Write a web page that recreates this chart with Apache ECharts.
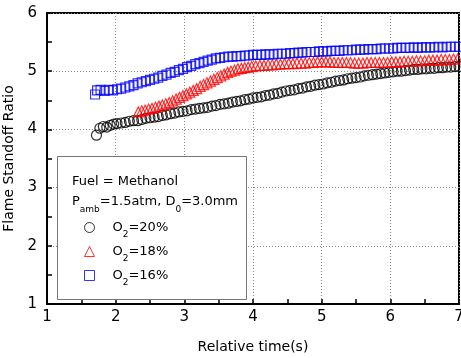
<!DOCTYPE html>
<html>
<head>
<meta charset="utf-8">
<script src="https://cdn.jsdelivr.net/npm/echarts@6/dist/echarts.min.js"></script>
<style>html,body{margin:0;padding:0;background:#fff}#c{width:461px;height:358px}</style>
</head>
<body>
<div id="c"></div>
<script>
var xTicks = [1, 2, 3, 4, 5, 6, 7];
var yTicks = [1, 2, 3, 4, 5, 6];
var seriesNames = ['O2=20%', 'O2=18%', 'O2=16%'];

var o2_20 = [
[1.72,3.90],[1.77,4.02],[1.82,4.05],[1.87,4.04],[1.92,4.07],[1.97,4.09],[2.02,4.10],[2.08,4.11],
[2.14,4.12],[2.20,4.14],[2.26,4.15],[2.32,4.15],[2.38,4.17],[2.44,4.19],[2.50,4.20],[2.56,4.21],
[2.62,4.22],[2.68,4.24],[2.74,4.25],[2.80,4.27],[2.86,4.28],[2.92,4.30],[2.98,4.31],[3.04,4.32],
[3.10,4.34],[3.16,4.35],[3.22,4.36],[3.28,4.37],[3.34,4.38],[3.40,4.40],[3.46,4.41],[3.52,4.43],
[3.58,4.44],[3.64,4.45],[3.70,4.47],[3.76,4.48],[3.82,4.49],[3.88,4.51],[3.94,4.52],[4.00,4.54],
[4.06,4.55],[4.12,4.56],[4.18,4.58],[4.24,4.59],[4.30,4.61],[4.36,4.62],[4.42,4.64],[4.48,4.66],
[4.54,4.67],[4.60,4.68],[4.66,4.70],[4.72,4.71],[4.78,4.73],[4.84,4.74],[4.90,4.76],[4.96,4.77],
[5.02,4.78],[5.08,4.80],[5.14,4.81],[5.20,4.83],[5.26,4.84],[5.32,4.85],[5.38,4.87],[5.44,4.88],
[5.50,4.89],[5.56,4.90],[5.62,4.92],[5.68,4.93],[5.74,4.94],[5.80,4.95],[5.86,4.96],[5.92,4.97],
[5.98,4.98],[6.04,4.99],[6.10,5.00],[6.16,5.00],[6.22,5.01],[6.28,5.02],[6.34,5.03],[6.40,5.03],
[6.46,5.04],[6.52,5.04],[6.58,5.05],[6.64,5.05],[6.70,5.06],[6.76,5.06],[6.82,5.07],[6.88,5.07],
[6.94,5.08],[7.00,5.08]
];

var o2_18 = [
[2.33,4.30],[2.38,4.32],[2.43,4.33],[2.48,4.35],[2.53,4.36],[2.58,4.38],[2.63,4.40],[2.68,4.42],
[2.73,4.44],[2.78,4.46],[2.83,4.49],[2.88,4.52],[2.93,4.55],[2.98,4.58],[3.03,4.61],[3.08,4.64],
[3.13,4.67],[3.18,4.70],[3.23,4.74],[3.28,4.77],[3.33,4.80],[3.38,4.83],[3.43,4.86],[3.48,4.89],
[3.53,4.92],[3.58,4.95],[3.63,4.98],[3.68,5.00],[3.73,5.02],[3.78,5.04],[3.83,5.05],[3.88,5.06],
[3.93,5.07],[3.98,5.08],[4.04,5.09],[4.10,5.10],[4.16,5.10],[4.22,5.11],[4.28,5.11],[4.34,5.12],
[4.40,5.12],[4.46,5.13],[4.52,5.13],[4.58,5.13],[4.64,5.14],[4.70,5.14],[4.76,5.14],[4.82,5.15],
[4.88,5.15],[4.94,5.16],[5.00,5.16],[5.06,5.16],[5.12,5.16],[5.18,5.15],[5.24,5.15],[5.30,5.15],
[5.36,5.15],[5.42,5.15],[5.48,5.14],[5.54,5.14],[5.60,5.14],[5.66,5.15],[5.72,5.15],[5.78,5.15],
[5.84,5.15],[5.90,5.15],[5.96,5.15],[6.02,5.16],[6.08,5.16],[6.14,5.16],[6.20,5.17],[6.26,5.17],
[6.32,5.17],[6.38,5.18],[6.44,5.18],[6.50,5.18],[6.56,5.19],[6.62,5.19],[6.68,5.19],[6.74,5.20],
[6.80,5.20],[6.86,5.20],[6.92,5.21],[6.98,5.21]
];

var o2_16 = [
[1.70,4.60],[1.73,4.67],[1.78,4.68],[1.84,4.66],[1.90,4.68],[1.96,4.67],[2.02,4.69],[2.08,4.70],
[2.14,4.72],[2.20,4.74],[2.26,4.76],[2.32,4.79],[2.38,4.81],[2.44,4.83],[2.50,4.85],[2.56,4.87],
[2.62,4.89],[2.68,4.92],[2.74,4.94],[2.80,4.97],[2.86,4.99],[2.92,5.02],[2.98,5.04],[3.04,5.07],
[3.10,5.09],[3.16,5.12],[3.22,5.14],[3.28,5.16],[3.34,5.18],[3.40,5.20],[3.46,5.22],[3.52,5.23],
[3.58,5.24],[3.64,5.25],[3.70,5.25],[3.76,5.26],[3.82,5.26],[3.88,5.27],[3.94,5.27],[4.00,5.28],
[4.06,5.28],[4.12,5.28],[4.18,5.29],[4.24,5.29],[4.30,5.29],[4.36,5.30],[4.42,5.30],[4.48,5.30],
[4.54,5.31],[4.60,5.31],[4.66,5.32],[4.72,5.32],[4.78,5.33],[4.84,5.33],[4.90,5.33],[4.96,5.34],
[5.02,5.34],[5.08,5.34],[5.14,5.35],[5.20,5.35],[5.26,5.35],[5.32,5.36],[5.38,5.36],[5.44,5.36],
[5.50,5.37],[5.56,5.37],[5.62,5.37],[5.68,5.38],[5.74,5.38],[5.80,5.38],[5.86,5.39],[5.92,5.39],
[5.98,5.39],[6.04,5.39],[6.10,5.40],[6.16,5.40],[6.22,5.40],[6.28,5.40],[6.34,5.41],[6.40,5.40],
[6.46,5.41],[6.52,5.41],[6.58,5.41],[6.64,5.41],[6.70,5.42],[6.76,5.41],[6.82,5.42],[6.88,5.42],
[6.94,5.42],[7.00,5.42]
];

var FF = 'DejaVu Sans';
var chart = echarts.init(document.getElementById('c'), null, {renderer: 'canvas'});

function axisCommon() {
  return {
    axisLine: {show: true, lineStyle: {color: '#000', width: 2}},
    axisTick: {show: true, inside: true, length: 5, lineStyle: {color: '#000', width: 1.5}},
    minorTick: {show: true, splitNumber: 2, length: 5, lineStyle: {color: '#000', width: 1.5}},
    splitLine: {show: true, lineStyle: {color: '#888', width: 1, type: [1, 2]}},
    nameTextStyle: {fontFamily: FF, fontSize: 14, color: '#000'}
  };
}

var xa = axisCommon();
Object.assign(xa, {
  type: 'value', min: xTicks[0], max: xTicks[xTicks.length - 1], interval: 1,
  name: 'Relative time(s)', nameLocation: 'middle', nameGap: 36,
  axisLabel: {fontFamily: FF, fontSize: 15, color: '#000', margin: 6}
});
var ya = axisCommon();
Object.assign(ya, {
  type: 'value', min: yTicks[0], max: yTicks[yTicks.length - 1], interval: 1,
  name: 'Flame Standoff Ratio', nameLocation: 'middle', nameGap: 20,
  axisLabel: {fontFamily: FF, fontSize: 15, color: '#000', margin: 10}
});

function sc(name, data, symbol, color, size) {
  return {
    name: name, type: 'scatter', data: data, symbol: symbol, symbolSize: size,
    itemStyle: {color: 'rgba(0,0,0,0)', borderColor: color, borderWidth: 1.2},
    emphasis: {disabled: true}, animation: false
  };
}

var rich = {
  n: {fontFamily: FF, fontSize: 13, color: '#000', lineHeight: 24},
  s: {fontFamily: FF, fontSize: 9, color: '#000', lineHeight: 9, verticalAlign: 'bottom'}
};

chart.setOption({
  animation: false,
  backgroundColor: '#fff',
  grid: {left: 47, right: 2, top: 13, bottom: 54, containLabel: false, outerBoundsMode: 'none',
         show: true, borderColor: '#000', borderWidth: 2, backgroundColor: 'transparent'},
  xAxis: xa,
  yAxis: ya,
  legend: {
    show: true, orient: 'vertical', left: 84, top: 221, padding: 0, itemGap: 5.5,
    itemWidth: 10, itemHeight: 10, selectedMode: false, z: 6,
    data: seriesNames,
    itemStyle: {borderWidth: 1},
    formatter: function (name) { return '{n|O}{s|2}{n|' + name.slice(2) + '}'; },
    textStyle: {fontFamily: FF, fontSize: 13, color: '#000', rich: rich, padding: [0, 0, 0, 13]}
  },
  graphic: [
    {type: 'rect', z: 5, shape: {x: 57.5, y: 156.5, width: 189, height: 143},
     style: {fill: '#fff', stroke: '#777', lineWidth: 1}},
    {type: 'text', z: 7, x: 72, y: 182,
     style: {text: 'Fuel = Methanol', font: '13px "DejaVu Sans"', fill: '#000', verticalAlign: 'middle'}},
    {type: 'text', z: 7, x: 72, y: 202,
     style: {text: '{n|P}{s|amb}{n|=1.5atm, D}{s|0}{n|=3.0mm}', rich: rich, verticalAlign: 'middle', fill: '#000'}}
  ],
  series: [
    sc(seriesNames[0], o2_20, 'circle', '#000', 10),
    sc(seriesNames[1], o2_18, 'triangle', '#ff0000', 10),
    sc(seriesNames[2], o2_16, 'rect', '#0000ff', 9)
  ]
});
</script>
</body>
</html>
